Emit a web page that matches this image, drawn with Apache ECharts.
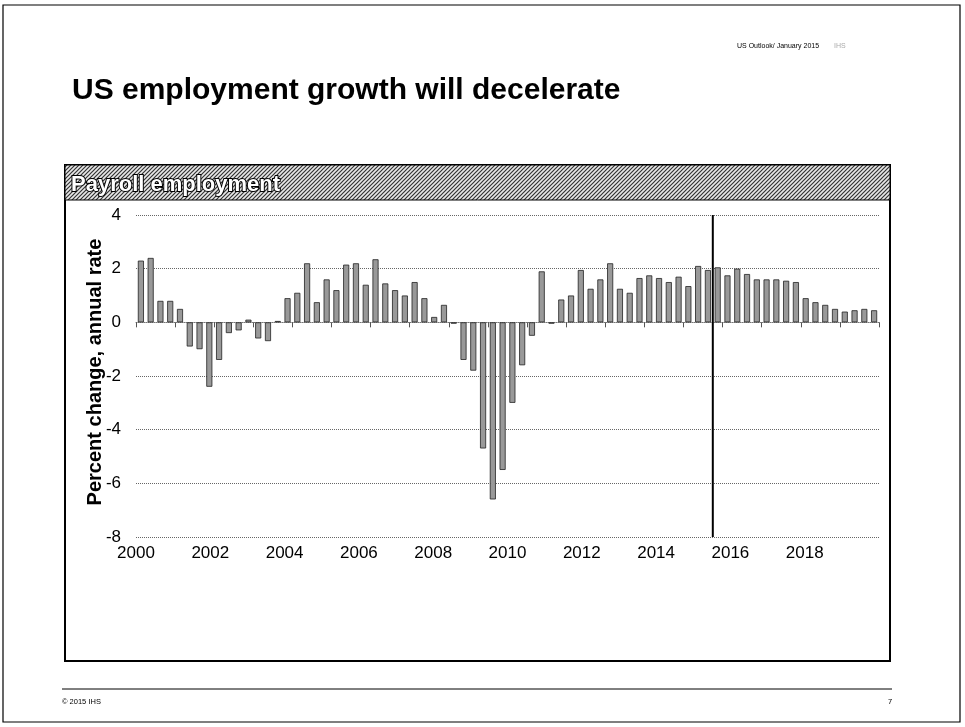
<!DOCTYPE html>
<html>
<head>
<meta charset="utf-8">
<script src="https://cdn.jsdelivr.net/npm/echarts@6/dist/echarts.min.js"></script>
<style>
  html, body { margin: 0; padding: 0; background: #fff; }
  #chart { width: 965px; height: 727px; }
</style>
</head>
<body>
<div id="chart"></div>
<script>
// 季度类目 2000Q1 - 2018Q4
var quarters = [];
for (var y = 2000; y <= 2018; y++) {
    for (var q = 1; q <= 4; q++) quarters.push(y + 'Q' + q);
}
// 横轴年份标签（最后一个留空）
var yearLabels = ['2000', '2002', '2004', '2006', '2008', '2010', '2012', '2014', '2016', '2018', ''];
// 就业增长，年化百分比
var payrollGrowth = [
    2.3, 2.4, 0.8, 0.8,
    0.5, -0.9, -1.0, -2.4,
    -1.4, -0.4, -0.3, 0.1,
    -0.6, -0.7, 0.05, 0.9,
    1.1, 2.2, 0.75, 1.6,
    1.2, 2.15, 2.2, 1.4,
    2.35, 1.45, 1.2, 1.0,
    1.5, 0.9, 0.2, 0.65,
    -0.05, -1.4, -1.8, -4.7,
    -6.6, -5.5, -3.0, -1.6,
    -0.5, 1.9, -0.05, 0.85,
    1.0, 1.95, 1.25, 1.6,
    2.2, 1.25, 1.1, 1.65,
    1.75, 1.65, 1.5, 1.7,
    1.35, 2.1, 1.95, 2.05,
    1.75, 2.0, 1.8, 1.6,
    1.6, 1.6, 1.55, 1.5,
    0.9, 0.75, 0.65, 0.5,
    0.4, 0.45, 0.5, 0.45
];
// 预测起点（年份，2014Q4 开始）
var forecastYear = 2014.75;
var yMin = -8, yMax = 4;

// 标题栏斜线底纹
function hatch() {
    var c = document.createElement('canvas');
    c.width = 4; c.height = 4;
    var ctx = c.getContext('2d');
    ctx.fillStyle = '#e8e8e8';
    ctx.fillRect(0, 0, 4, 4);
    ctx.strokeStyle = '#333';
    ctx.lineWidth = 1.2;
    ctx.beginPath();
    ctx.moveTo(0, 4); ctx.lineTo(4, 0);
    ctx.moveTo(-1, 1); ctx.lineTo(1, -1);
    ctx.moveTo(3, 5); ctx.lineTo(5, 3);
    ctx.stroke();
    return c;
}

var myChart = echarts.init(document.getElementById('chart'));
var font = '"Liberation Sans", Arial, sans-serif';

var option = {
    backgroundColor: '#fff',
    animation: false,
    textStyle: { fontFamily: font },
    grid: {
        left: 136,
        right: 86,
        top: 215,
        bottom: 190
    },
    xAxis: [
        {
            type: 'category',
            data: quarters,
            boundaryGap: true,
            axisLine: {
                onZero: true,
                lineStyle: { color: '#777', width: 1, type: 'dotted' }
            },
            axisTick: {
                show: true,
                interval: 3,
                length: 5,
                lineStyle: { color: '#555' }
            },
            axisLabel: { show: false },
            splitLine: { show: false }
        },
        {
            type: 'category',
            data: yearLabels,
            boundaryGap: false,
            position: 'bottom',
            axisLine: { show: false },
            axisTick: { show: false },
            axisLabel: {
                interval: 0,
                fontSize: 17,
                color: '#000',
                margin: 8
            },
            splitLine: { show: false }
        },
        {
            // 用于预测分隔线的隐藏时间轴
            type: 'value',
            min: 2000,
            max: 2019,
            show: false
        }
    ],
    yAxis: {
        type: 'value',
        min: yMin,
        max: yMax,
        interval: 2,
        axisLine: { show: false },
        axisTick: { show: false },
        axisLabel: { fontSize: 17, color: '#000', margin: 15 },
        splitLine: {
            lineStyle: { color: '#666', width: 1, type: 'dotted' }
        }
    },
    series: [
        {
            name: 'Payroll employment',
            type: 'bar',
            data: payrollGrowth,
            barWidth: '62%',
            itemStyle: {
                color: '#999',
                borderColor: '#222',
                borderWidth: 0.8
            }
        },
        {
            name: 'forecast',
            type: 'line',
            xAxisIndex: 2,
            data: [[forecastYear, yMax], [forecastYear, yMin]],
            symbol: 'none',
            silent: true,
            lineStyle: { color: '#000', width: 2 }
        }
    ],
    graphic: [
        // 外框
        { type: 'rect', shape: { x: 3, y: 5, width: 957, height: 717 }, style: { fill: 'none', stroke: '#000', lineWidth: 1.2 }, z: 0 },
        {
            type: 'text', left: 737, top: 43,
            style: { text: 'US Outlook/ January 2015', font: '7px ' + font, fill: '#000' }
        },
        {
            type: 'text', left: 834, top: 43,
            style: { text: 'IHS', font: '7px ' + font, fill: '#aaa' }
        },
        {
            type: 'text', left: 72, top: 76,
            style: { text: 'US employment growth will decelerate', font: 'bold 30px ' + font, fill: '#000' }
        },
        // 纵轴标题
        {
            type: 'text', x: 95, y: 372, rotation: Math.PI / 2,
            style: {
                text: 'Percent change, annual rate', font: 'bold 20px ' + font, fill: '#000',
                align: 'center', verticalAlign: 'middle'
            }
        },
        // 图表面板
        { type: 'rect', shape: { x: 65, y: 165, width: 825, height: 496 }, style: { fill: 'none', stroke: '#000', lineWidth: 2 }, z: 0 },
        { type: 'rect', shape: { x: 65, y: 165, width: 825, height: 35 }, style: { fill: { image: hatch(), repeat: 'repeat' }, stroke: '#000', lineWidth: 1 }, z: 0 },
        {
            type: 'text', left: 70, top: 173,
            style: { text: 'Payroll employment', font: 'bold 22px ' + font, fill: '#fff', stroke: '#000', lineWidth: 2 },
            z: 1
        },
        // 页脚
        { type: 'line', shape: { x1: 62, y1: 689, x2: 892, y2: 689 }, style: { stroke: '#000', lineWidth: 1 } },
        {
            type: 'text', left: 62, top: 698,
            style: { text: '© 2015 IHS', font: '7.5px ' + font, fill: '#000' }
        },
        {
            type: 'text', left: 888, top: 698,
            style: { text: '7', font: '7.5px ' + font, fill: '#000' }
        }
    ]
};

myChart.setOption(option);
</script>
</body>
</html>
